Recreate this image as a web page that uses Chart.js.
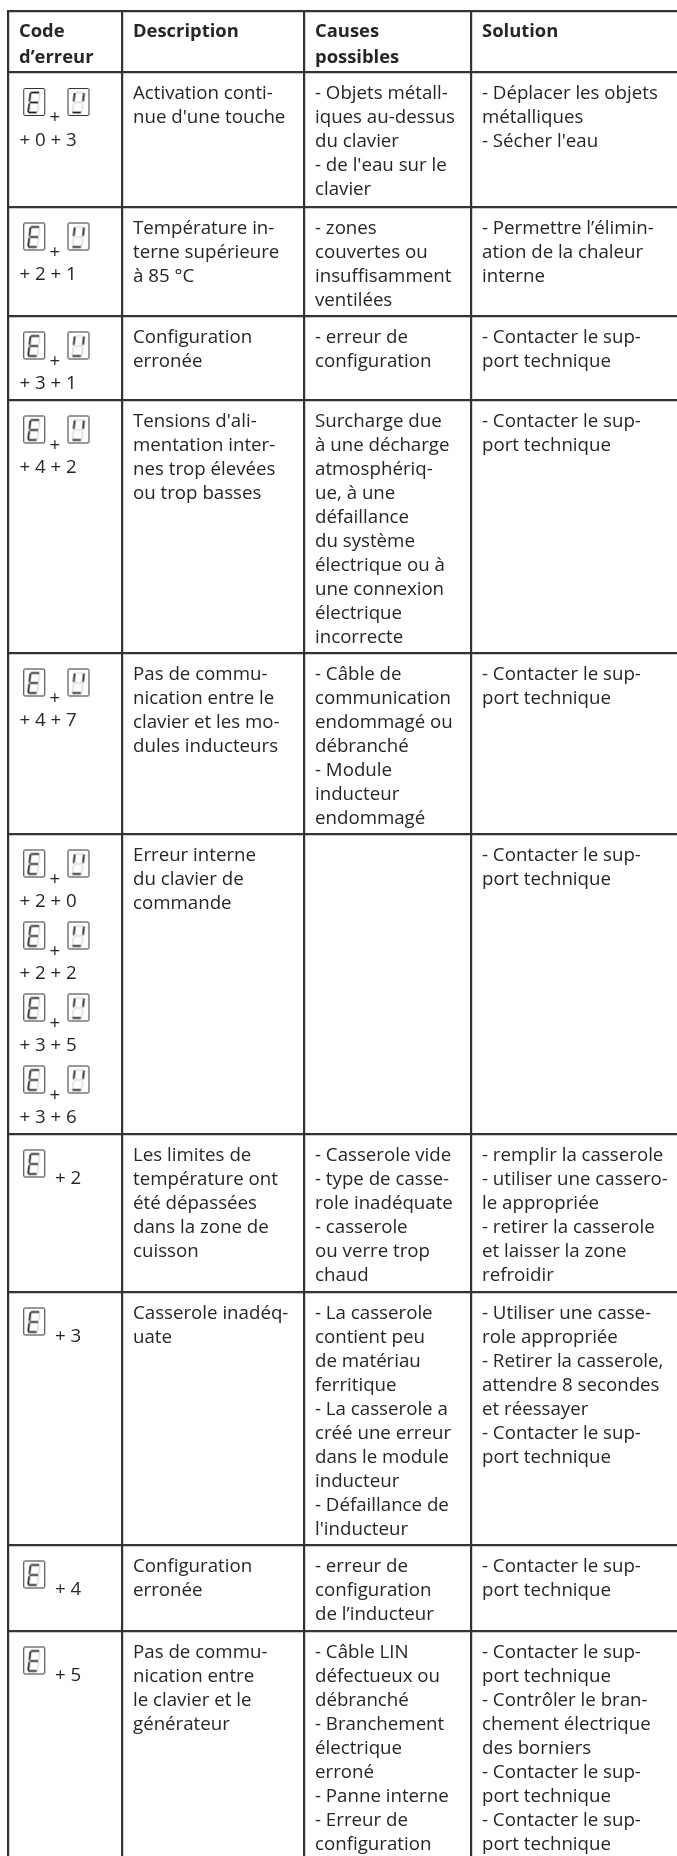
<!DOCTYPE html>
<html>
<head>
<meta charset="utf-8">
<style>
  html, body { margin: 0; background: #fff; }
  canvas { display: block; }
</style>
<script src="https://cdn.jsdelivr.net/npm/chart.js@4"></script>
</head>
<body>
<canvas id="errorTable" width="677" height="1856"></canvas>
<script>
// Table lines, used as tick values of the two axes
const columnEdges = [8, 122, 304, 471];
const rowEdges = [11.5, 72.5, 207, 316, 400, 653, 834, 1134, 1292, 1545, 1631];

const headers = [
  ["Code", "d’erreur"],
  ["Description"],
  ["Causes", "possibles"],
  ["Solution"]
];

const codes = [
  ["+ 0 + 3"],
  ["+ 2 + 1"],
  ["+ 3 + 1"],
  ["+ 4 + 2"],
  ["+ 4 + 7"],
  ["+ 2 + 0", "+ 2 + 2", "+ 3 + 5", "+ 3 + 6"],
  ["+ 2"],
  ["+ 3"],
  ["+ 4"],
  ["+ 5"]
];

const descriptions = [
  ["Activation conti-", "nue d'une touche"],
  ["Température in-", "terne supérieure", "à 85 °C"],
  ["Configuration", "erronée"],
  ["Tensions d'ali-", "mentation inter-", "nes trop élevées", "ou trop basses"],
  ["Pas de commu-", "nication entre le", "clavier et les mo-", "dules inducteurs"],
  ["Erreur interne", "du clavier de", "commande"],
  ["Les limites de", "température ont", "été dépassées", "dans la zone de", "cuisson"],
  ["Casserole inadéq-", "uate"],
  ["Configuration", "erronée"],
  ["Pas de commu-", "nication entre", "le clavier et le", "générateur"]
];

const causes = [
  ["- Objets métall-", "iques au-dessus", "du clavier", "- de l'eau sur le", "clavier"],
  ["- zones", "couvertes ou", "insuffisamment", "ventilées"],
  ["- erreur de", "configuration"],
  ["Surcharge due", "à une décharge", "atmosphériq-", "ue, à une", "défaillance", "du système", "électrique ou à", "une connexion", "électrique", "incorrecte"],
  ["- Câble de", "communication", "endommagé ou", "débranché", "- Module", "inducteur", "endommagé"],
  [],
  ["- Casserole vide", "- type de casse-", "role inadéquate", "- casserole", "ou verre trop", "chaud"],
  ["- La casserole", "contient peu", "de matériau", "ferritique", "- La casserole a", "créé une erreur", "dans le module", "inducteur", "- Défaillance de", "l'inducteur"],
  ["- erreur de", "configuration", "de l’inducteur"],
  ["- Câble LIN", "défectueux ou", "débranché", "- Branchement", "électrique", "erroné", "- Panne interne", "- Erreur de", "configuration"]
];

const solutions = [
  ["- Déplacer les objets", "métalliques", "- Sécher l'eau"],
  ["- Permettre l’élimin-", "ation de la chaleur", "interne"],
  ["- Contacter le sup-", "port technique"],
  ["- Contacter le sup-", "port technique"],
  ["- Contacter le sup-", "port technique"],
  ["- Contacter le sup-", "port technique"],
  ["- remplir la casserole", "- utiliser une cassero-", "le appropriée", "- retirer la casserole", "et laisser la zone", "refroidir"],
  ["- Utiliser une casse-", "role appropriée", "- Retirer la casserole,", "attendre 8 secondes", "et réessayer", "- Contacter le sup-", "port technique"],
  ["- Contacter le sup-", "port technique"],
  ["- Contacter le sup-", "port technique", "- Contrôler le bran-", "chement électrique", "des borniers", "- Contacter le sup-", "port technique", "- Contacter le sup-", "port technique"]
];

const INK = "#262626";
const FONT = '"Open Sans"';

// Seven segment display with its lit segments, order: top, upper left, upper right, middle, lower left, lower right, bottom
function makeDisplay(lit) {
  const c = document.createElement("canvas");
  c.width = 24;
  c.height = 30;
  const g = c.getContext("2d");
  g.strokeStyle = "#333";
  g.lineWidth = 1;
  g.beginPath();
  g.roundRect(1.5, 1.5, 21, 27, 1.5);
  g.stroke();
  const segs = [
    [8.5, 5.5, 17, 5.5], [8.2, 6, 7.2, 14.5], [17.5, 6, 16.5, 14.5], [7.5, 15.5, 16, 15.5],
    [7, 16.5, 6, 25], [16.3, 16.5, 15.3, 25], [6, 25.5, 14.5, 25.5]
  ];
  segs.forEach((s, i) => {
    if (lit[i]) return;
    g.strokeStyle = "#dcdcdc";
    g.lineWidth = 1.6;
    g.beginPath(); g.moveTo(s[0], s[1]); g.lineTo(s[2], s[3]); g.stroke();
  });
  segs.forEach((s, i) => {
    if (!lit[i]) return;
    g.strokeStyle = "#222";
    g.lineWidth = 1.8;
    g.beginPath(); g.moveTo(s[0], s[1]); g.lineTo(s[2], s[3]); g.stroke();
  });
  return c;
}

const iconE = makeDisplay([1, 1, 0, 1, 1, 0, 1]);
const iconU = makeDisplay([0, 1, 1, 0, 0, 0, 1]);

// One E display per code, plus a second display when the code has two digits
const ePoints = [];
const uPoints = [];
codes.forEach((list, r) => {
  list.forEach((code, k) => {
    const top = rowEdges[r + 1] + 15.5 + k * 72;
    ePoints.push({ x: 34.2, y: top + 14 });
    if (code.length > 3) uPoints.push({ x: 78.5, y: top + 14 });
  });
});

const tablePlugin = {
  id: "tableText",
  afterDatasetsDraw(chart) {
    const ctx = chart.ctx;
    const xs = chart.scales.x;
    const ys = chart.scales.y;
    ctx.save();
    ctx.fillStyle = INK;
    ctx.textBaseline = "alphabetic";
    ctx.textAlign = "left";

    function writeLines(lines, col, y0, step) {
      const x = xs.getPixelForValue(columnEdges[col]) + 11;
      lines.forEach((t, i) => ctx.fillText(t, x, ys.getPixelForValue(y0 + i * step)));
    }

    ctx.font = "bold 18.4px " + FONT;
    headers.forEach((lines, c) => writeLines(lines, c, 36.5, 26));

    ctx.font = "18.7px " + FONT;
    [descriptions, causes, solutions].forEach((col, c) => {
      col.forEach((lines, r) => writeLines(lines, c + 1, rowEdges[r + 1] + 26.5, 24));
    });

    codes.forEach((list, r) => {
      list.forEach((code, k) => {
        const top = rowEdges[r + 1] + 15.5 + k * 72;
        if (code.length > 3) {
          ctx.fillText("+", xs.getPixelForValue(49.5), ys.getPixelForValue(top + 35));
          ctx.fillText(code, xs.getPixelForValue(19.5), ys.getPixelForValue(top + 57.5));
        } else {
          ctx.fillText(code, xs.getPixelForValue(55), ys.getPixelForValue(top + 34));
        }
      });
    });
    ctx.restore();
  }
};

new Chart(document.getElementById("errorTable").getContext("2d"), {
  type: "scatter",
  data: {
    datasets: [
      { label: "E", data: ePoints, pointStyle: iconE, pointRadius: 14 },
      { label: "U", data: uPoints, pointStyle: iconU, pointRadius: 14 }
    ]
  },
  options: {
    responsive: false,
    animation: false,
    layout: { autoPadding: false, padding: { left: 7, top: 10 } },
    plugins: { legend: { display: false }, tooltip: { enabled: false } },
    scales: {
      x: {
        type: "linear",
        min: 7,
        max: 677,
        border: { display: false },
        grid: { color: "#333", lineWidth: 2.2, drawTicks: false },
        ticks: { display: false },
        afterBuildTicks(scale) { scale.ticks = columnEdges.map(v => ({ value: v })); }
      },
      y: {
        type: "linear",
        reverse: true,
        min: 10,
        max: 1856,
        border: { display: false },
        grid: { color: "#333", lineWidth: 2.2, drawTicks: false },
        ticks: { display: false },
        afterBuildTicks(scale) { scale.ticks = rowEdges.map(v => ({ value: v })); }
      }
    }
  },
  plugins: [tablePlugin]
});
</script>
</body>
</html>
